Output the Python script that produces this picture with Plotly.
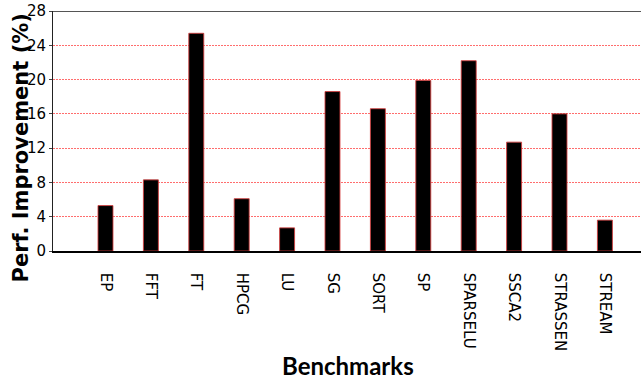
import plotly.graph_objects as go

benchmarks = ["EP", "FFT", "FT", "HPCG", "LU", "SG", "SORT", "SP",
              "SPARSELU", "SSCA2", "STRASSEN", "STREAM"]
improvement = [5.3, 8.3, 25.4, 6.1, 2.7, 18.6, 16.6, 19.9, 22.2, 12.7, 16.0, 3.6]
y_ticks = [0, 4, 8, 12, 16, 20, 24, 28]

W, H = 641, 381
ML, MR, MT, MB = 53, 0, 11, 130

fig = go.Figure()
fig.add_trace(go.Bar(
    x=benchmarks, y=improvement, width=0.33,
    marker=dict(color="black", line=dict(color="rgba(210,60,60,0.85)", width=1)),
))

fig.update_layout(
    width=W, height=H,
    margin=dict(l=ML, r=MR, t=MT, b=MB, pad=0, autoexpand=False),
    paper_bgcolor="white", plot_bgcolor="white",
    showlegend=False,
    font=dict(family="DejaVu Sans", size=15, color="black"),
    xaxis=dict(
        type="category", categoryorder="array", categoryarray=benchmarks,
        range=[-1.156, 11.795], automargin=False,
        showline=True, linecolor="black", linewidth=1.5,
        ticks="", tickangle=90, ticklabelstandoff=17,
        tickfont=dict(family="DejaVu Sans", size=15, color="black"),
        showgrid=False, zeroline=False,
    ),
    yaxis=dict(
        range=[0, 28], tickvals=y_ticks, ticktext=[str(v) for v in y_ticks],
        automargin=False,
        showline=True, linecolor="#222", linewidth=1,
        ticks="outside", ticklen=3, tickcolor="#444", tickwidth=1,
        tickfont=dict(family="DejaVu Sans", size=15, color="black"),
        showgrid=True, gridcolor="rgba(255,60,60,0.75)", griddash="2px,1px", gridwidth=1,
        zeroline=False,
    ),
)

# top border
fig.add_shape(type="line", xref="paper", yref="y", x0=0, x1=1, y0=28, y1=28,
              line=dict(color="#555", width=2))

pw = W - ML - MR
ph = H - MT - MB
fig.add_annotation(
    text="<b>Perf. Improvement (%)</b>", textangle=-90,
    xref="paper", yref="paper",
    x=(20 - ML) / pw, y=(H - MB - 148.5) / ph,
    xanchor="center", yanchor="middle", showarrow=False,
    font=dict(family="DejaVu Sans", size=21, color="black"),
)
fig.add_annotation(
    text="<b>Benchmarks</b>",
    xref="paper", yref="paper",
    x=(347.5 - ML) / pw, y=(H - MB - 381) / ph,
    xanchor="center", yanchor="bottom", showarrow=False, borderpad=0,
    font=dict(family="Lato", size=24, color="black"),
)

fig.write_html("out.html",
               config={"displayModeBar": False},
               post_script="document.body.style.margin='0';document.body.style.overflow='hidden';")
